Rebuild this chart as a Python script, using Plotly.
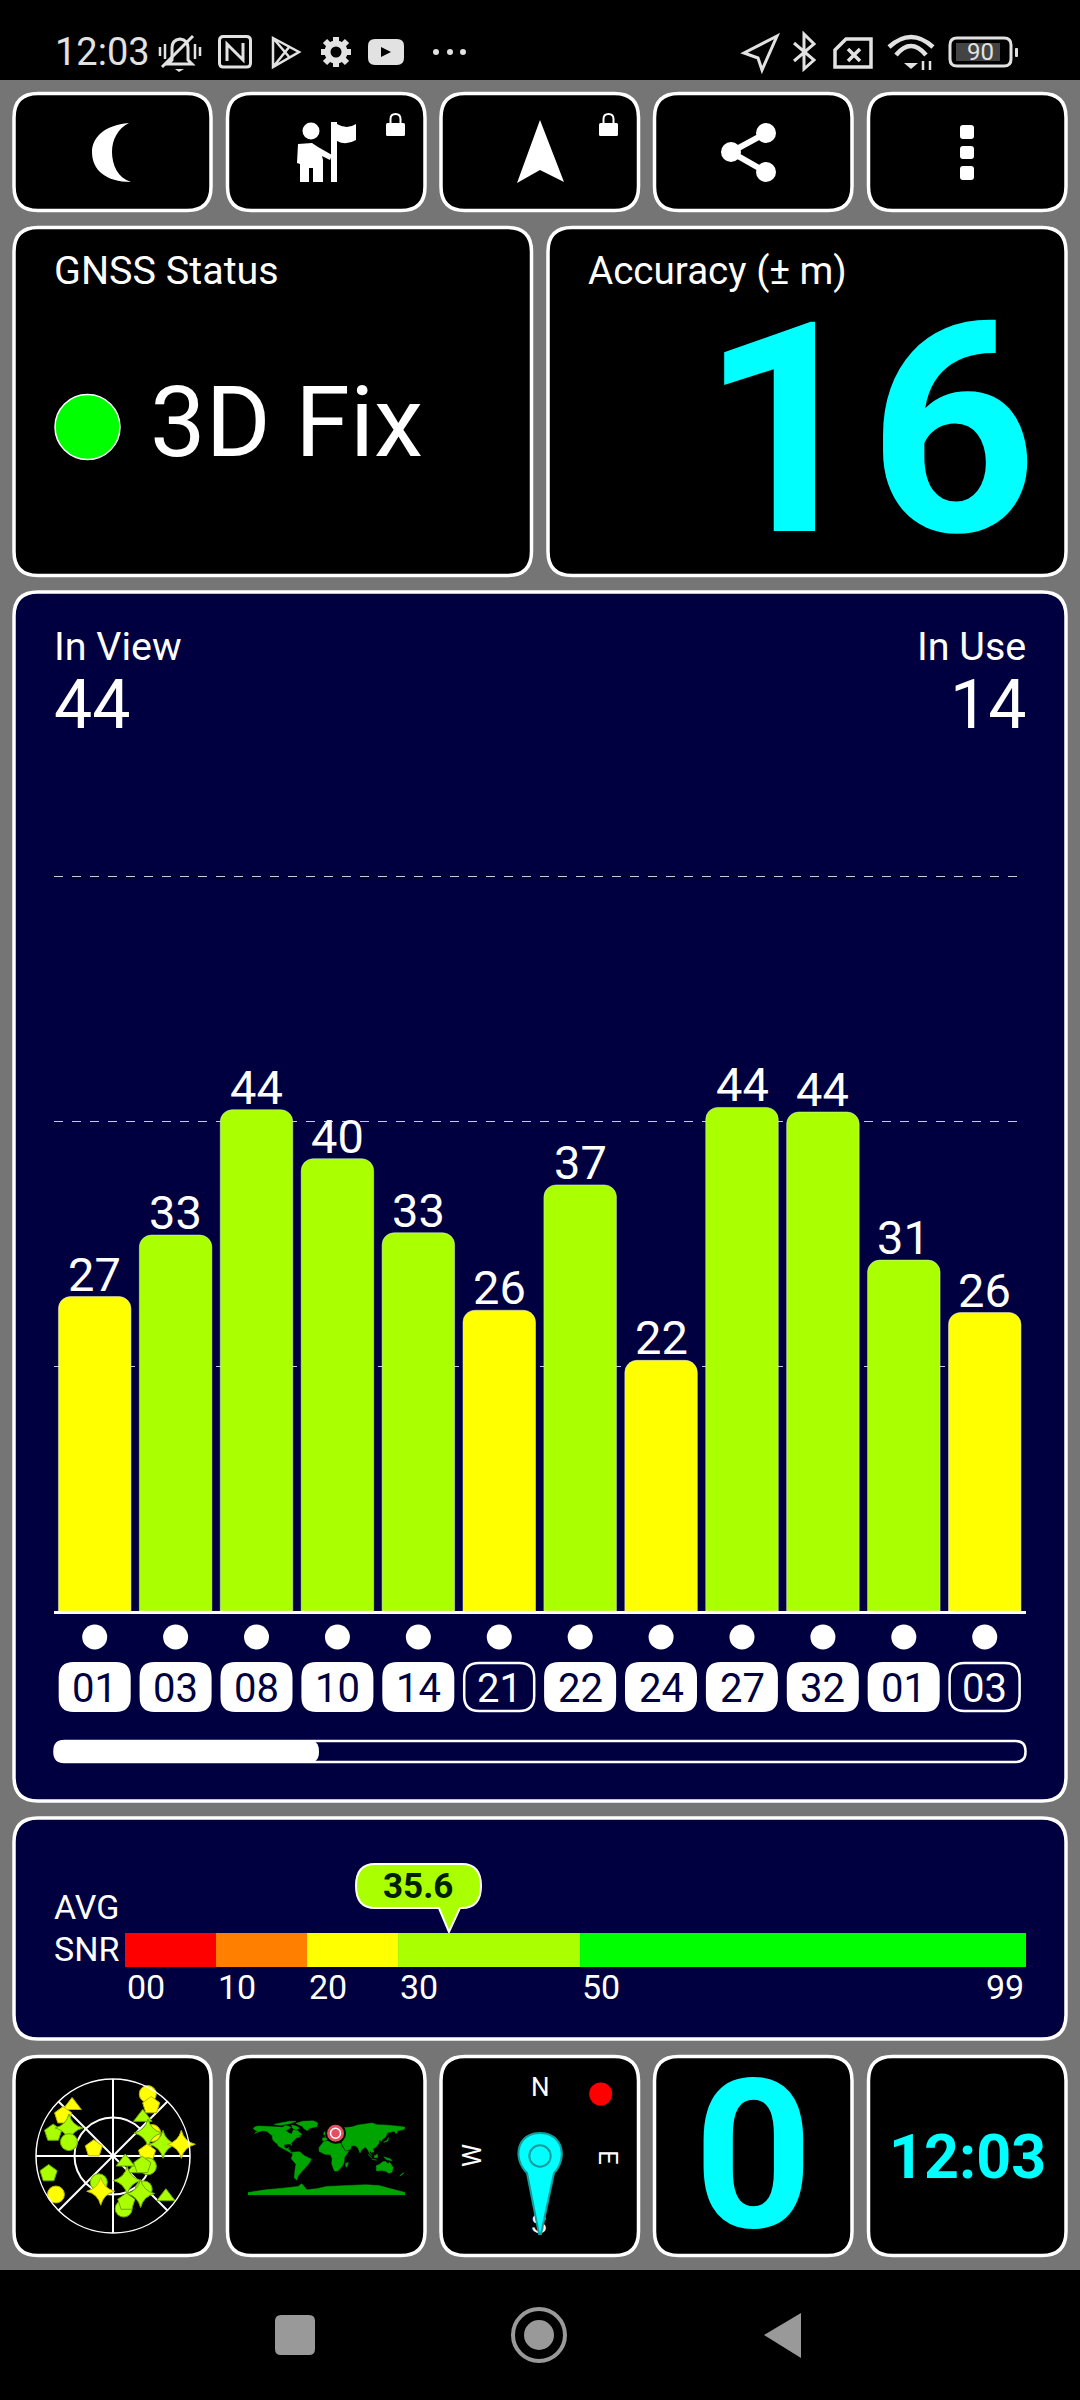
import plotly.graph_objects as go

W = 1080
H = 2400

GREY = '#757575'
NAVY = '#000040'
CYAN = '#00FFFF'
RED = '#FF0000'
ORANGE = '#FF8000'
YELLOW = '#FFFF00'
LIME = '#AAFF00'
GREEN = '#00FF00'
LAND = '#00A400'

# satellite bars
PRN = ['01', '03', '08', '10', '14', '21', '22', '24', '27', '32', '01', '03']
IN_USE = [1, 1, 1, 1, 1, 0, 1, 1, 1, 1, 1, 0]
SNR_LABELS = [27, 33, 44, 40, 33, 26, 37, 22, 44, 44, 31, 26]
SNR_HEIGHT = [27.6, 33.0, 44.0, 39.7, 33.2, 26.4, 37.4, 22.0, 44.2, 43.8, 30.8, 26.2]
GRID_DB = [21.5, 43.0, 64.5]

# average SNR gauge
GAUGE_START = [0, 10, 20, 30, 50]
GAUGE_WIDTH = [10, 10, 10, 20, 49]
GAUGE_COLOR = [RED, ORANGE, YELLOW, LIME, GREEN]
GAUGE_TICKS = ['00', '10', '20', '30', '50']
AVG_SNR = 35.6

# sky plot, azimuth / distance from centre
SAT_AZ = [29.3, 37.1, 321, 309, 291, 302.5, 287.5, 37.6, 59.7, 56.7, 76.9, 80.3, 291, 85,
          106.4, 118.5, 107.7, 116, 254.8, 236, 208.3, 199.2, 150, 137.4, 143.7, 127.6, 168.5, 163.8]
SAT_R = [83, 74, 76, 75, 75, 61, 54, 57, 53, 49, 60, 81, 24, 40,
         42.5, 31, 36, 16, 78, 80.5, 35, 43.6, 33, 53, 54.5, 78, 62.7, 56]
SAT_SYMBOL = ['circle', 'pentagon', 'triangle-up', 'pentagon', 'pentagon', 'star-diamond', 'circle',
              'triangle-up', 'circle', 'star-diamond', 'star-diamond', 'star-diamond', 'pentagon', 'pentagon',
              'circle', 'triangle-up', 'pentagon', 'triangle-up', 'pentagon', 'circle', 'circle', 'star-diamond',
              'star-diamond', 'circle', 'star-diamond', 'triangle-up', 'circle', 'pentagon']
SAT_YELLOW = [1, 1, 1, 1, 0, 0, 0, 0, 1, 0, 0, 1, 1, 1, 0, 0, 0, 0, 0, 1, 0, 1, 0, 0, 0, 0, 0, 0]
SAT_SIZE = {'circle': 17, 'pentagon': 18, 'triangle-up': 16, 'star-diamond': 20}

# world map outlines
LANDS = [
    [(-168, 66), (-162, 70), (-156, 71), (-141, 70), (-128, 70), (-115, 68), (-100, 68), (-95, 72), (-85, 70),
     (-82, 67), (-94, 60), (-88, 56), (-80, 52), (-78, 57), (-76, 62), (-66, 60), (-60, 54), (-56, 51), (-65, 48),
     (-60, 46), (-70, 43), (-75, 38), (-81, 31), (-80, 25), (-83, 29), (-90, 29), (-97, 27), (-97, 21), (-91, 18),
     (-87, 21), (-88, 16), (-83, 14), (-83, 10), (-78, 8), (-82, 8), (-90, 13), (-96, 16), (-105, 20), (-110, 24),
     (-113, 30), (-117, 32), (-122, 37), (-124, 42), (-124, 48), (-130, 54), (-137, 59), (-148, 60), (-156, 57),
     (-165, 54), (-158, 59), (-165, 62)],
    [(-55, 82), (-30, 83), (-20, 78), (-22, 70), (-40, 65), (-44, 60), (-52, 65), (-55, 70), (-70, 77)],
    [(-80, 73), (-70, 71), (-62, 66), (-70, 62), (-78, 66)],
    [(-120, 75), (-100, 78), (-85, 82), (-70, 82), (-85, 76), (-105, 73)],
    [(-78, 10), (-62, 11), (-50, 1), (-35, -6), (-39, -15), (-48, -25), (-58, -38), (-65, -45), (-68, -55),
     (-74, -50), (-72, -30), (-70, -18), (-81, -5), (-78, 2)],
    [(-6, 35), (10, 37), (11, 33), (20, 31), (32, 31), (37, 20), (43, 12), (51, 12), (41, -2), (40, -15), (35, -24),
     (26, -34), (18, -34), (12, -17), (13, -5), (9, 4), (-4, 5), (-17, 12), (-17, 21), (-10, 30)],
    [(-9, 37), (-9, 43), (-1, 44), (-4, 48), (4, 52), (9, 54), (8, 58), (5, 60), (12, 66), (25, 71), (40, 67),
     (60, 69), (70, 73), (90, 76), (105, 78), (115, 74), (140, 73), (170, 70), (180, 68), (178, 63), (163, 60),
     (160, 53), (155, 59), (140, 55), (135, 45), (127, 39), (126, 35), (121, 39), (120, 30), (112, 21), (106, 18),
     (109, 11), (103, 9), (100, 13), (98, 8), (104, 2), (98, 9), (94, 17), (89, 22), (80, 15), (77, 8), (72, 20),
     (66, 25), (57, 25), (55, 17), (44, 13), (39, 21), (35, 30), (36, 36), (27, 37), (22, 37), (20, 41), (13, 45),
     (16, 40), (9, 44), (3, 42), (0, 38), (-5, 36)],
    [(-6, 50), (1, 52), (-3, 58), (-6, 56)],
    [(131, 33), (141, 36), (142, 44), (139, 38)],
    [(95, 5), (105, -5), (102, -4)],
    [(109, 1), (117, 5), (117, -3), (110, -3)],
    [(131, -1), (147, -6), (150, -10), (138, -8)],
    [(105, -7), (115, -8.5), (105, -8)],
    [(114, -22), (122, -18), (130, -12), (136, -12), (140, -17), (145, -14), (153, -26), (150, -37), (143, -39),
     (135, -34), (125, -33), (115, -34)],
    [(172, -41), (178, -38), (175, -41), (168, -46)],
    [(44, -16), (50, -14), (47, -25), (44, -23)],
    [(-180, -90), (180, -90), (180, -84), (120, -68), (90, -66), (40, -68), (0, -70), (-20, -75), (-45, -78),
     (-57, -64), (-65, -70), (-100, -74), (-140, -78), (-180, -84)],
]
USER_LON = [20.7]
USER_LAT = [54]

MAP_LON = []
MAP_LAT = []
for land in LANDS:
    MAP_LON += [p[0] for p in land] + [land[0][0], None]
    MAP_LAT += [p[1] for p in land] + [land[0][1], None]


def xdom(a, b):
    return [a / W, b / W]


def ydom(top, bottom):
    return [1 - bottom / H, 1 - top / H]


def to_paper(cmd):
    # svg style path in screen pixels, numbers alternate x and y
    out = []
    is_x = True
    for tok in cmd.split():
        if tok.isalpha():
            out.append(tok)
            is_x = True
        elif is_x:
            out.append(str(float(tok) / W))
            is_x = False
        else:
            out.append(str(1 - float(tok) / H))
            is_x = True
    return ' '.join(out)


shapes = []
annotations = []


def draw(cmd, fill=None, line=None, width=0, layer='below'):
    shapes.append(dict(type='path', xref='paper', yref='paper', layer=layer, path=to_paper(cmd),
                       fillcolor=fill if fill else 'rgba(0,0,0,0)',
                       line=dict(color=line if line else 'rgba(0,0,0,0)', width=width)))


def round_rect(x0, y0, x1, y1, r, fill=None, line=None, width=0):
    cmd = 'M {a} {y0} L {b} {y0} Q {x1} {y0} {x1} {c} L {x1} {d} Q {x1} {y1} {b} {y1} L {a} {y1} ' \
          'Q {x0} {y1} {x0} {d} L {x0} {c} Q {x0} {y0} {a} {y0} Z'.format(
              a=x0 + r, b=x1 - r, c=y0 + r, d=y1 - r, x0=x0, x1=x1, y0=y0, y1=y1)
    draw(cmd, fill, line, width)


def circle(cx, cy, r, fill=None, line=None, width=0, layer='below'):
    shapes.append(dict(type='circle', xref='paper', yref='paper', layer=layer,
                       x0=(cx - r) / W, x1=(cx + r) / W, y0=1 - (cy + r) / H, y1=1 - (cy - r) / H,
                       fillcolor=fill if fill else 'rgba(0,0,0,0)',
                       line=dict(color=line if line else 'rgba(0,0,0,0)', width=width)))


def label(text, x, y, size, color='white', anchor='left', angle=0, weight=400):
    annotations.append(dict(text=text, x=x / W, y=1 - y / H, xref='paper', yref='paper', showarrow=False,
                            xanchor=anchor, yanchor='middle', textangle=angle, borderpad=0, borderwidth=0,
                            font=dict(family='Roboto', size=size, color=color, weight=weight)))


# black status and navigation bars
draw('M 0 0 L 1080 0 L 1080 80 L 0 80 Z', fill='black')
draw('M 0 2270 L 1080 2270 L 1080 2400 L 0 2400 Z', fill='black')

# panels
for x0, x1 in [(14, 211), (227.5, 425), (441, 638.5), (654.5, 852), (868.5, 1066)]:
    round_rect(x0, 93.5, x1, 210.5, 24, fill='black', line='white', width=3.5)
    round_rect(x0, 2056.5, x1, 2255.5, 24, fill='black', line='white', width=3.5)
round_rect(14, 227.5, 531.5, 575.5, 24, fill='black', line='white', width=3.5)
round_rect(548, 227.5, 1066, 575.5, 24, fill='black', line='white', width=3.5)
round_rect(14, 592, 1066, 1801, 24, fill=NAVY, line='white', width=3.5)
round_rect(14, 1818, 1066, 2039, 24, fill=NAVY, line='white', width=3.5)

# top row icons
draw('M 129 123 C 104 125 92 138 92 152 C 92 170 106 182 131 182 C 118 178 112 165 112 152 C 112 140 118 128 129 123 Z',
     fill='white')
circle(311, 131, 8.5, fill='white')
draw('M 298 144 L 312 143 L 318 147 L 332 155 L 330 160 L 322 156 L 323 160 L 323 182 L 313 182 L 313 168 '
     'L 309 168 L 309 182 L 300 182 L 300 164 L 297 163 Z', fill='white')
draw('M 331 122 L 337 122 L 337 182 L 331 182 Z', fill='white')
draw('M 337 124 Q 347 130 356 124 L 356 140 Q 346 146 337 141 Z', fill='white')
for lx in (386, 599):
    round_rect(lx, 123, lx + 19, 136, 1.5, fill='white')
    draw('M {} 124 L {} 119 Q {} 114 {} 114 Q {} 114 {} 119 L {} 124'.format(
        lx + 4.5, lx + 4.5, lx + 4.5, lx + 9.5, lx + 14.5, lx + 14.5, lx + 14.5), line='white', width=2)
draw('M 540 120 L 564 182 L 540 170 L 517 183 Z', fill='white')
draw('M 766 133 L 731 152 L 766 172', line='white', width=6)
circle(766, 133, 10, fill='white')
circle(731, 152, 10, fill='white')
circle(766, 172, 10, fill='white')
for y0, y1 in [(125, 139), (146, 159), (166, 180)]:
    round_rect(960, y0, 974, y1, 3, fill='white')

# status bar, left
ICON = '#E2E2E2'
draw('M 168 64 L 172 60 L 172 48 Q 172 40 180 39 Q 188 40 188 48 L 188 60 L 192 64 Z', line=ICON, width=3)
draw('M 162 67 L 193 36', line=ICON, width=3)
draw('M 160 47 L 160 56 M 165 44 L 165 59 M 195 44 L 195 59 M 200 47 L 200 56', line=ICON, width=2.5)
draw('M 175 69 L 184 69 L 179 72 Z', fill=ICON)
round_rect(219.5, 36.5, 250.5, 67, 4, line=ICON, width=3)
draw('M 227 61 L 227 44 L 238 55 M 243 43 L 243 60 L 232 49', line=ICON, width=3)
draw('M 273 38 L 299 52 L 273 67 Z M 273 38 L 290 58 M 273 67 L 290 46', line=ICON, width=2.5)
for a, b in [(-15, 0), (15, 0), (0, -15), (0, 15), (-11, -11), (11, 11), (-11, 11), (11, -11)]:
    draw('M {} {} L {} {}'.format(336 + a * 0.5, 52 + b * 0.5, 336 + a, 52 + b), line=ICON, width=6)
circle(336, 52, 8.5, line=ICON, width=6)
round_rect(368, 39, 404, 65, 7, fill=ICON)
draw('M 381 47 L 391 52 L 381 57 Z', fill='black')
for dx in (436, 450, 463):
    circle(dx, 52, 3, fill=ICON)
label('12:03', 55, 52, 38, color=ICON)

# status bar, right
draw('M 777 36 L 744 53 L 758 58 L 762 70 Z', line=ICON, width=3)
draw('M 794 43 L 814 60 L 804 69 L 804 34 L 814 44 L 794 61', line=ICON, width=3)
draw('M 846 39 L 871 39 L 871 67 L 835 67 L 835 50 Z', line=ICON, width=3.5)
draw('M 848 49 L 860 61 M 860 49 L 848 61', line=ICON, width=3.5)
draw('M 889 47 Q 911 27 933 47', line=ICON, width=4.5)
draw('M 896 55 Q 911 37 926 55', line=ICON, width=4.5)
draw('M 904 63 L 918 63 L 911 69 Z', fill=ICON)
draw('M 923 61 L 923 70 M 930 61 L 930 70', line=ICON, width=2.5)
round_rect(950, 38, 1011, 66, 7, line=ICON, width=3)
draw('M 956 43 L 1000 43 L 1000 61 L 956 61 Z', fill='#444444')
round_rect(1015, 48, 1018, 57, 1, fill=ICON)
label('90', 980, 52, 24, color=ICON, anchor='center')

# fix and accuracy panels
circle(87.5, 427, 32.5, fill=GREEN, line='white', width=1.5)
label('GNSS Status', 53.5, 270, 39.5)
label('Accuracy (± m)', 587.5, 270, 38.6)
label('3D Fix', 150, 422, 99)
label('16', 1037, 431, 294, color=CYAN, anchor='right', weight=700)

# satellites panel
label('In View', 53.5, 647, 39.5)
label('44', 53.5, 705, 68)
label('In Use', 1026, 647, 39.5, anchor='right')
label('14', 1026, 705, 68, anchor='right')

# value above each bar, PRN under it
for i, snr in enumerate(SNR_LABELS):
    annotations.append(dict(text=str(snr), x=i, y=SNR_HEIGHT[i], xref='x', yref='y', showarrow=False,
                            xanchor='center', yanchor='bottom', yshift=-6, borderpad=0,
                            font=dict(family='Roboto', size=47, color='white')))
    annotations.append(dict(text=PRN[i], x=i, y=1 - 1688 / H, xref='x', yref='paper', showarrow=False,
                            xanchor='center', yanchor='middle', borderpad=0,
                            font=dict(family='Roboto', size=40, color=NAVY if IN_USE[i] else 'white')))

# PRN pills and scroll bar
for i in range(len(PRN)):
    cx = 94.7 + 80.9 * i
    if IN_USE[i]:
        round_rect(cx - 36, 1662, cx + 36, 1712, 15, fill='white')
    else:
        round_rect(cx - 35, 1663, cx + 35, 1711, 15, line='white', width=2.5)
round_rect(54.5, 1741, 1025.5, 1762, 10, line='white', width=2.5)
round_rect(54, 1740, 319, 1763, 11, fill='white')

# gauge labels and callout
label('AVG', 54, 1907, 34)
label('SNR', 54, 1949, 34)
tip = 125 + AVG_SNR * 9.1
draw('M 375 1864 L 462 1864 Q 481 1864 481 1886 Q 481 1908 462 1908 L {} 1908 L {} 1932 L {} 1908 L 375 1908 '
     'Q 356 1908 356 1886 Q 356 1864 375 1864 Z'.format(tip + 11, tip, tip - 10), fill=LIME, line='white', width=2)
label(str(AVG_SNR), 418, 1886, 35, color='#002000', anchor='center', weight=700)
for val, text in zip(GAUGE_START, GAUGE_TICKS):
    annotations.append(dict(text=text, x=val, y=1 - 1987 / H, xref='x2', yref='paper', showarrow=False,
                            xanchor='left', yanchor='middle',
                            font=dict(family='Roboto', size=34, color='white')))
annotations.append(dict(text='99', x=99, y=1 - 1987 / H, xref='x2', yref='paper', showarrow=False,
                        xanchor='right', yanchor='middle',
                        font=dict(family='Roboto', size=34, color='white')))

# compass, needle goes over the S
label('N', 540, 2087, 26, anchor='center')
label('E', 608, 2157, 26, anchor='center', angle=90)
label('W', 472, 2156, 26, anchor='center', angle=-90)
circle(600.7, 2094, 11.5, fill=RED)
TEAL = '#139C9C'
draw('M 527 2173 C 512 2158 517 2133 540 2133 C 563 2133 568 2158 554 2173 L 541 2234 L 539 2234 Z',
     fill=CYAN, line=TEAL, width=2, layer='above')
circle(540, 2156, 10.7, line=TEAL, width=2, layer='above')

# speed and clock
label('0', 753, 2156, 207, color=CYAN, anchor='center', weight=700)
label('12:03', 967, 2157, 61, color=CYAN, anchor='center', weight=700)

# navigation bar
NAV = '#999999'
round_rect(275, 2315, 315, 2355, 6, fill=NAV)
circle(539, 2335, 26, line=NAV, width=4)
circle(539, 2335, 15, fill=NAV)
draw('M 801 2313 L 801 2358 L 764 2335 Z', fill=NAV)

fig = go.Figure()

fig.add_trace(go.Bar(x=list(range(len(PRN))), y=SNR_HEIGHT,
                     marker=dict(color=[YELLOW if s < 30 else LIME for s in SNR_LABELS], cornerradius=12),
                     xaxis='x', yaxis='y'))

fig.add_trace(go.Scatter(x=list(range(len(PRN))), y=['fix'] * len(PRN), mode='markers',
                         marker=dict(color='white', size=25),
                         xaxis='x', yaxis='y2'))

fig.add_trace(go.Bar(x=GAUGE_WIDTH, base=GAUGE_START, y=['snr'] * len(GAUGE_WIDTH), orientation='h', width=1,
                     marker=dict(color=GAUGE_COLOR, line=dict(width=0)),
                     xaxis='x2', yaxis='y3'))

fig.add_trace(go.Scatter(x=MAP_LON, y=MAP_LAT, mode='lines', fill='toself', fillcolor=LAND,
                         line=dict(color=LAND, width=0.5), xaxis='x3', yaxis='y4'))
fig.add_trace(go.Scatter(x=USER_LON, y=USER_LAT, mode='markers', cliponaxis=False,
                         marker=dict(color='#E05060', size=19, line=dict(color='black', width=2)),
                         xaxis='x3', yaxis='y4'))
fig.add_trace(go.Scatter(x=USER_LON, y=USER_LAT, mode='markers', cliponaxis=False,
                         marker=dict(symbol='circle-open', color='white', size=10, line=dict(color='white', width=1.5)),
                         xaxis='x3', yaxis='y4'))

# S sits under the needle so it has to be a trace, it reads the same turned over
fig.add_trace(go.Scatter(x=[0], y=['S'], mode='text', text=['S'], cliponaxis=False,
                         textfont=dict(family='Roboto', size=26, color='white'),
                         xaxis='x4', yaxis='y5'))

# array sizes make plotly treat this as a bubble chart, opacity has to be set
fig.add_trace(go.Scatterpolar(r=SAT_R, theta=SAT_AZ, mode='markers', cliponaxis=False,
                              marker=dict(symbol=SAT_SYMBOL, size=[SAT_SIZE[s] for s in SAT_SYMBOL], opacity=1,
                                          color=[YELLOW if y else LIME for y in SAT_YELLOW],
                                          line=dict(color=['#B8B800' if y else '#6BA800' for y in SAT_YELLOW],
                                                    width=1))))

fig.update_layout(
    width=W,
    height=H,
    margin=dict(l=0, r=0, t=0, b=0),
    paper_bgcolor=GREY,
    plot_bgcolor='rgba(0,0,0,0)',
    showlegend=False,
    hovermode=False,
    bargap=0.104,
    shapes=shapes,
    annotations=annotations,
    xaxis=dict(domain=xdom(54, 1026), range=[-0.503, 11.51], showgrid=False, showline=True, linecolor='white',
               linewidth=3, ticks='', showticklabels=False, zeroline=False, anchor='y'),
    yaxis=dict(domain=ydom(850, 1611), range=[0, 66.8], tickvals=GRID_DB, showticklabels=False, ticks='',
               showgrid=True, gridcolor='#C8C8D8', griddash='dash', gridwidth=1, zeroline=False, showline=False,
               anchor='x'),
    yaxis2=dict(domain=ydom(1612, 1712), visible=False, type='category', categoryorder='array',
                categoryarray=['prn', 'fix'], range=[-0.5, 1.5], anchor='x'),
    xaxis2=dict(domain=xdom(125, 1026), range=[0, 99], visible=False, anchor='y3'),
    yaxis3=dict(domain=ydom(1933, 1967), visible=False, type='category', range=[-0.5, 0.5], anchor='x2'),
    xaxis3=dict(domain=xdom(248, 405), range=[-180, 180], visible=False, anchor='y4'),
    yaxis4=dict(domain=ydom(2120, 2195), range=[-90, 85], visible=False, anchor='x3'),
    xaxis4=dict(domain=xdom(519, 559), range=[-1, 1], visible=False, anchor='y5'),
    yaxis5=dict(domain=ydom(2206, 2246), visible=False, type='category', range=[-0.5, 0.5], anchor='x4'),
    polar=dict(domain=dict(x=xdom(36, 190), y=ydom(2079, 2233)),
               bgcolor='rgba(0,0,0,0)',
               radialaxis=dict(range=[0, 90], tickvals=[45, 90], showticklabels=False, ticks='', showline=False,
                               gridcolor='white', gridwidth=1.5),
               angularaxis=dict(direction='clockwise', rotation=90, dtick=45, showticklabels=False, ticks='',
                                gridcolor='white', gridwidth=1.5, linecolor='white', linewidth=1.5)),
)

fig.write_html('out.html', config=dict(displayModeBar=False),
               post_script="document.body.style.margin='0';document.body.style.background='#000';")
